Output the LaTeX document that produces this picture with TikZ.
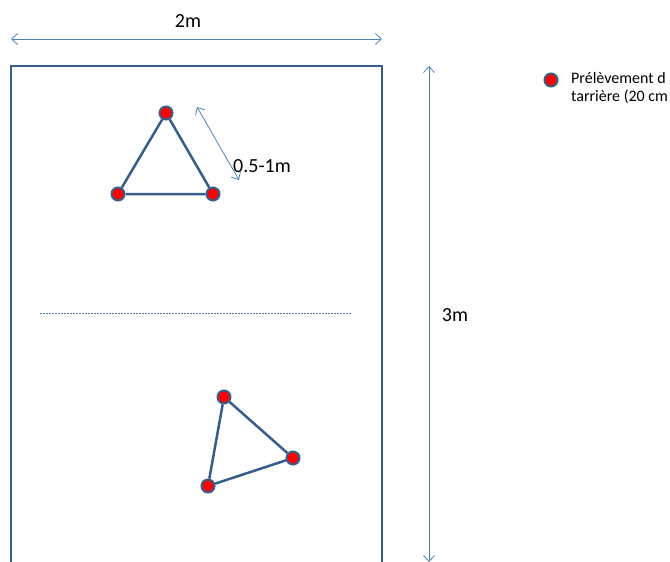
\documentclass[tikz,border=0pt]{standalone}
\usepackage{fontspec}
\setmainfont{Carlito}
\usetikzlibrary{arrows.meta}
\definecolor{boxblue}{HTML}{385D8A}
\definecolor{arrblue}{HTML}{4F81BD}
\begin{document}
\begin{tikzpicture}[x=1pt,y=-1pt,
  dot/.style={circle,draw=boxblue,line width=2pt,fill=red,minimum size=13pt,inner sep=0pt},
  edge/.style={draw=boxblue,line width=2.5pt},
  dim/.style={draw=arrblue,line width=0.8pt,{Straight Barb[length=6pt,width=11pt]}-{Straight Barb[length=6pt,width=11pt]}},
  lbl/.style={font=\fontsize{20}{24}\selectfont,inner sep=0pt}]
\useasboundingbox (0,0) rectangle (670,562);
\clip (0,0) rectangle (670,562);
% field rectangle
\draw[boxblue,line width=2.5pt] (11,590) -- (11,66) -- (382,66) -- (382,590);
% mid dashed line
\coordinate (d1) at (40,313);
\coordinate (d2) at (352,313);
\draw[arrblue,line width=0.8pt,dash pattern=on 2pt off 1pt] (d1) -- (d2);
% width dimension
\coordinate (w1) at (11,39);
\coordinate (w2) at (382,39);
\draw[dim] (w1) -- (w2);
\node[lbl] (wl) at (188,21) {2m};
% height dimension
\coordinate (h1) at (429,66);
\coordinate (h2) at (429,562);
\draw[dim] (h1) -- (h2);
\node[lbl] (hl) at (455,315) {3m};
% triangle 1
\node[dot] (a1) at (166,113) {};
\node[dot] (a2) at (118,194) {};
\node[dot] (a3) at (213,194) {};
\draw[edge] (a1) -- (a2) -- (a3) -- (a1);
% small dimension
\coordinate (s1) at (197,107);
\coordinate (s2) at (239,180);
\draw[dim] (s1) -- (s2);
\node[lbl,anchor=west] (sl) at (233,166) {0.5-1m};
% triangle 2
\node[dot] (b1) at (224,397) {};
\node[dot] (b2) at (293,458) {};
\node[dot] (b3) at (208,486) {};
\draw[edge] (b1) -- (b2) -- (b3) -- (b1);
% legend
\node[dot] (ld) at (551,80) {};
\node[anchor=north west,align=left,inner sep=0pt,font=\fontsize{16}{18.5}\selectfont] (lt) at (571,72) {Prélèvement d\\tarrière (20 cm};
\end{tikzpicture}
\end{document}
